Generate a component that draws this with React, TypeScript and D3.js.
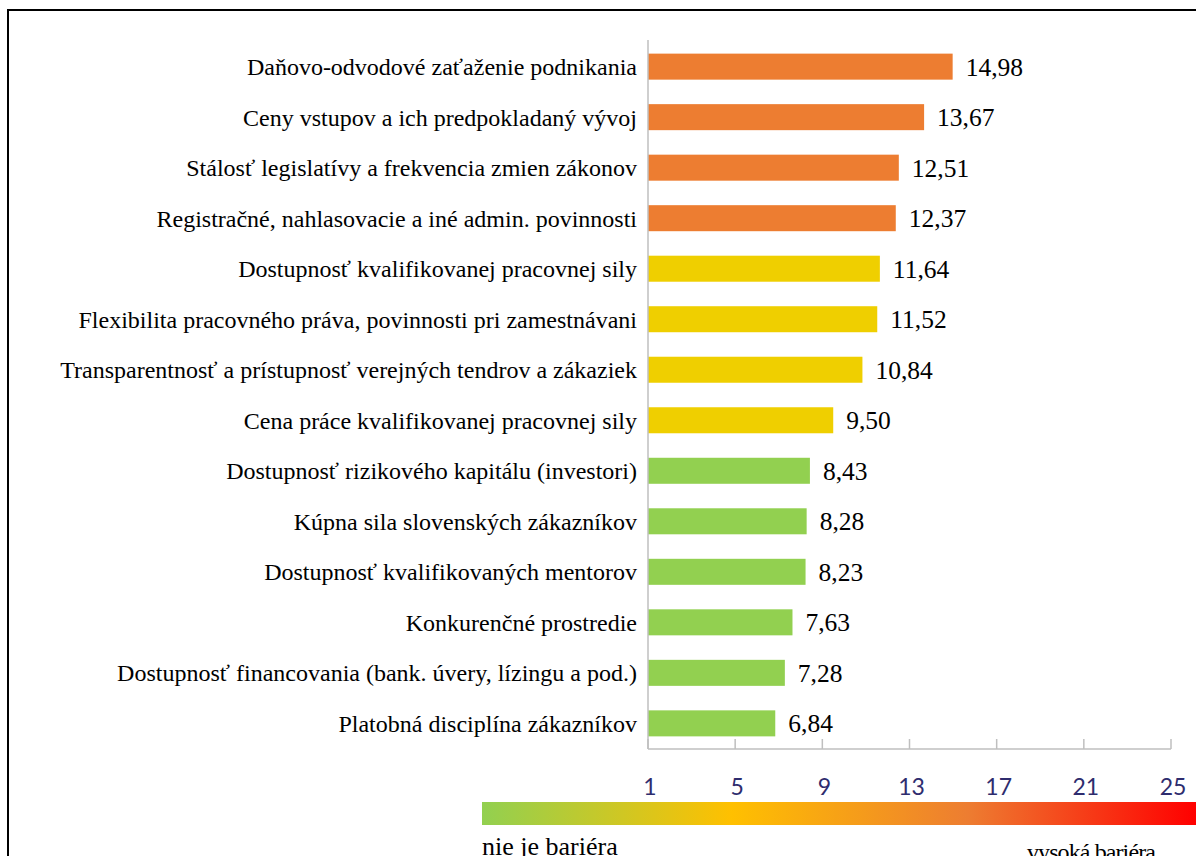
import React from "react";
import * as d3 from "d3";

const categories = [
  "Daňovo-odvodové zaťaženie podnikania",
  "Ceny vstupov a ich predpokladaný vývoj",
  "Stálosť legislatívy a frekvencia zmien zákonov",
  "Registračné, nahlasovacie a iné admin. povinnosti",
  "Dostupnosť kvalifikovanej pracovnej sily",
  "Flexibilita pracovného práva, povinnosti pri zamestnávani",
  "Transparentnosť a prístupnosť verejných tendrov a zákaziek",
  "Cena práce kvalifikovanej pracovnej sily",
  "Dostupnosť rizikového kapitálu (investori)",
  "Kúpna sila slovenských zákazníkov",
  "Dostupnosť kvalifikovaných mentorov",
  "Konkurenčné prostredie",
  "Dostupnosť financovania (bank. úvery, lízingu a pod.)",
  "Platobná disciplína zákazníkov",
];
const values = [14.98, 13.67, 12.51, 12.37, 11.64, 11.52, 10.84, 9.5, 8.43, 8.28, 8.23, 7.63, 7.28, 6.84];
const levels = ["high", "high", "high", "high", "mid", "mid", "mid", "mid", "low", "low", "low", "low", "low", "low"];
const tickValues = [1, 5, 9, 13, 17, 21, 25];
const legendLow = "nie je bariéra";
const legendHigh = "vysoká bariéra";

const levelColor: Record<string, string> = { high: "#ED7D31", mid: "#EFCF00", low: "#92D050" };

export default function App() {
  const x = d3.scaleLinear().domain([1, 25]).range([648, 1171]);
  const y = d3.scaleBand<string>().domain(categories).range([41, 749]).paddingInner(0.485).paddingOuter(0.25);
  const fmt = (v: number) => d3.format(".2f")(v).replace(".", ",");
  const serif = "'Liberation Serif', 'Times New Roman', serif";
  return (
    <svg width={1196} height={856} style={{ position: "absolute", left: 0, top: 0 }}>
      <defs>
        <linearGradient id="barrierGrad" x1="0" x2="1" y1="0" y2="0">
          <stop offset="0" stopColor="#92D050" />
          <stop offset="0.35" stopColor="#FFC000" />
          <stop offset="0.68" stopColor="#ED7D31" />
          <stop offset="1" stopColor="#FF0000" />
        </linearGradient>
      </defs>
      <rect x={0} y={0} width={1196} height={856} fill="#fff" />
      <rect x={8} y={10} width={1300} height={900} fill="none" stroke="#000" strokeWidth={2} />
      {categories.map((c, i) => (
        <g key={c}>
          <rect x={x(1)} y={y(c)} width={x(values[i]) - x(1)} height={y.bandwidth()} fill={levelColor[levels[i]]} />
          <text x={637} y={(y(c) as number) + y.bandwidth() / 2} dy="0.35em" textAnchor="end" fontFamily={serif} fontSize={24} fill="#000">
            {c}
          </text>
          <text x={x(values[i]) + 13} y={(y(c) as number) + y.bandwidth() / 2} dy="0.35em" fontFamily={serif} fontSize={25.5} fill="#000">
            {fmt(values[i])}
          </text>
        </g>
      ))}
      <line x1={648} x2={648} y1={40} y2={749} stroke="#BFBFBF" strokeWidth={1.5} />
      <line x1={648} x2={x(25)} y1={749} y2={749} stroke="#BFBFBF" strokeWidth={1.5} />
      {tickValues.map((t) => (
        <g key={t}>
          <line x1={x(t)} x2={x(t)} y1={739} y2={749} stroke="#BFBFBF" strokeWidth={1.5} />
          <text x={x(t) + 2} y={795} textAnchor="middle" fontFamily="Lato, 'Open Sans', sans-serif" fontSize={23} fill="#2E2C6E">
            {t}
          </text>
        </g>
      ))}
      <rect x={482} y={802} width={714} height={23} fill="url(#barrierGrad)" />
      <text x={482} y={855} fontFamily={serif} fontSize={26} fill="#000">{legendLow}</text>
      <text x={1155} y={860} textAnchor="end" fontFamily={serif} fontSize={24} letterSpacing={-0.9} fill="#000">{legendHigh}</text>
    </svg>
  );
}
